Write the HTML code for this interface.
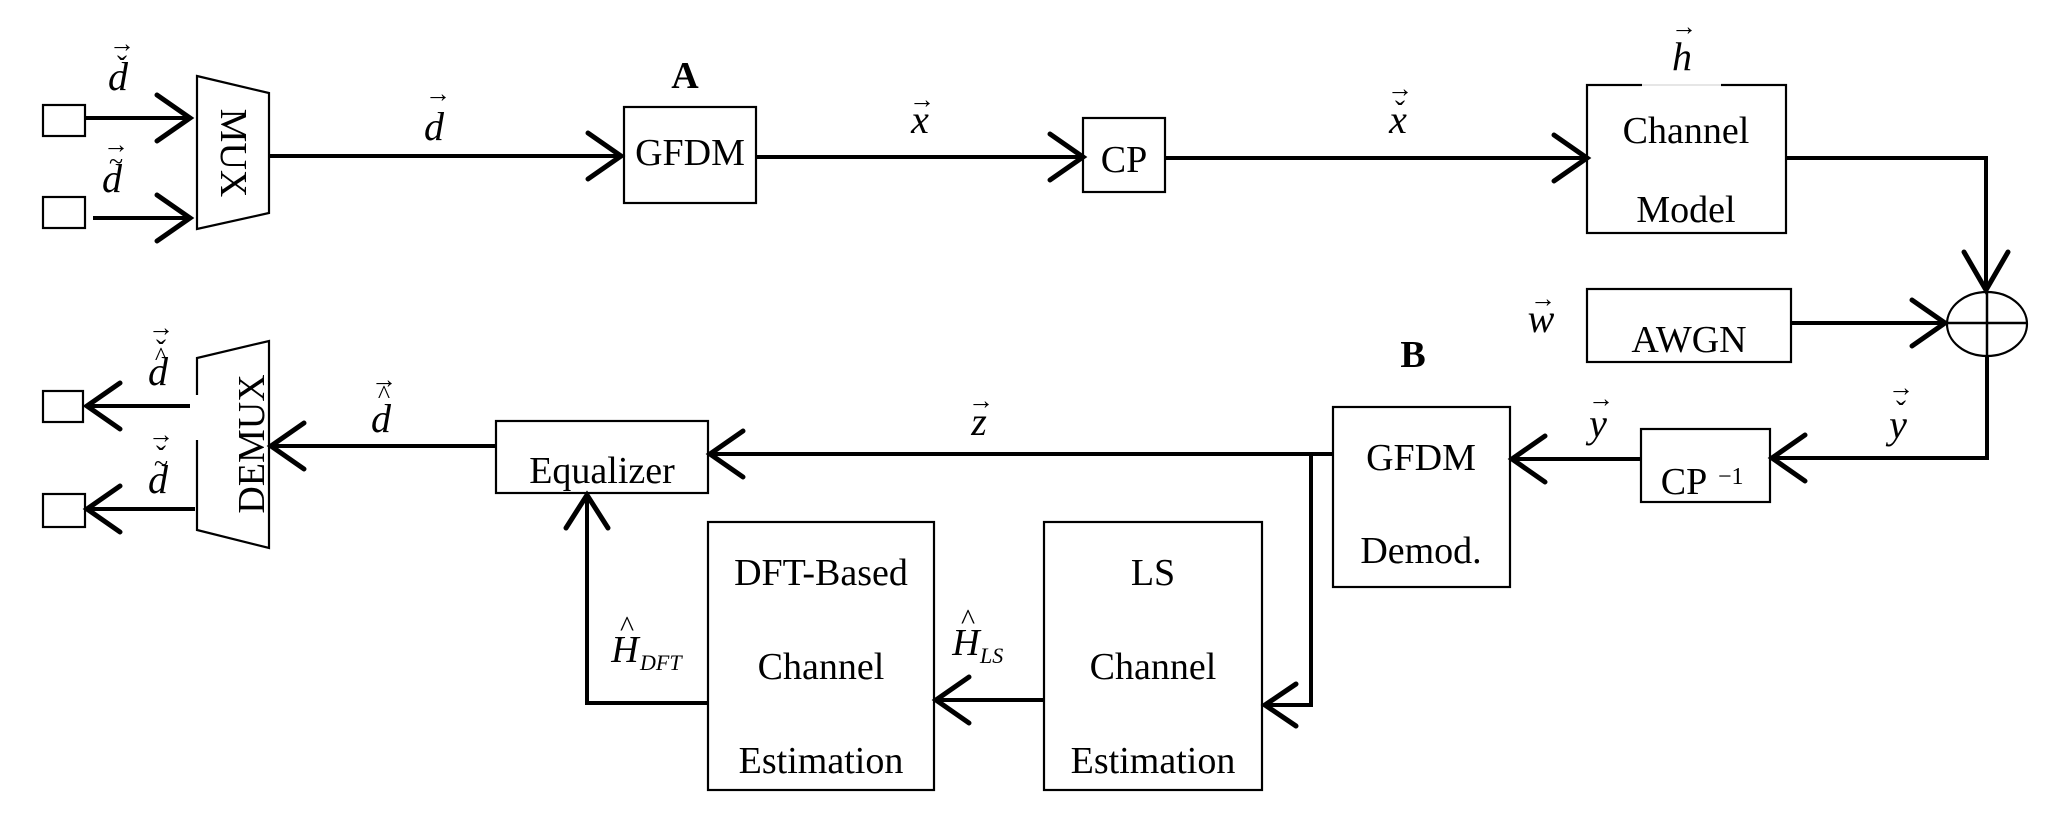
<!DOCTYPE html>
<html><head><meta charset="utf-8"><style>
html,body{margin:0;padding:0;background:#fff;}
svg{display:block;}
text{font-family:"Liberation Serif",serif;fill:#000;}
.t{font-size:38px;text-anchor:middle;}
.v{font-size:40px;font-style:italic;text-anchor:middle;}
.acc{font-size:26px;text-anchor:middle;}
.ck{font-size:30px;text-anchor:middle;}
</style></head><body>
<svg width="2057" height="821" viewBox="0 0 2057 821" xmlns="http://www.w3.org/2000/svg">
<g fill="none" stroke="#000" stroke-width="2.2">
<rect x="43" y="105" width="42" height="31"/>
<rect x="43" y="197" width="42" height="31"/>
<rect x="43" y="391" width="40" height="31"/>
<rect x="43" y="494" width="42" height="33"/>
<polygon points="197,76 269,93 269,213 197,229"/>
<polyline points="197,395 197,358 269,341 269,548 197,530 197,440"/>
<rect x="624" y="107" width="132" height="96"/>
<rect x="1083" y="118" width="82" height="74"/>
<rect x="1587" y="85" width="199" height="148"/>
<rect x="1587" y="289" width="204" height="73"/>
<ellipse cx="1987" cy="324" rx="40" ry="32"/>
<rect x="1333" y="407" width="177" height="180"/>
<rect x="1641" y="429" width="129" height="73"/>
<rect x="496" y="421" width="212" height="72"/>
<rect x="708" y="522" width="226" height="268"/>
<rect x="1044" y="522" width="218" height="268"/>
</g>
<line x1="1642" y1="85" x2="1721" y2="85" stroke="#fff" stroke-width="3"/>
<line x1="1642" y1="85" x2="1721" y2="85" stroke="#ccc" stroke-width="1"/>
<g fill="none" stroke="#000" stroke-width="4">
<line x1="85" y1="118" x2="190" y2="118"/>
<line x1="93" y1="218" x2="190" y2="218"/>
<line x1="269" y1="156" x2="621" y2="156"/>
<line x1="756" y1="157" x2="1083" y2="157"/>
<line x1="1165" y1="158" x2="1587" y2="158"/>
<polyline points="1786,158 1986,158 1986,290"/>
<line x1="1791" y1="323" x2="1945" y2="323"/>
<line x1="1947" y1="323" x2="2027" y2="323" stroke-width="2.5"/>
<line x1="1987" y1="292" x2="1987" y2="356" stroke-width="2.5"/>
<polyline points="1987,356 1987,458 1772,458"/>
<line x1="1641" y1="459" x2="1512" y2="459"/>
<line x1="1333" y1="454" x2="710" y2="454"/>
<polyline points="1311,454 1311,705 1265,705"/>
<line x1="1044" y1="700" x2="936" y2="700"/>
<polyline points="708,703 587,703 587,495"/>
<line x1="496" y1="446" x2="271" y2="446"/>
<line x1="190" y1="406" x2="87" y2="406"/>
<line x1="195" y1="509" x2="87" y2="509"/>
</g>
<g fill="none" stroke="#000" stroke-width="5" stroke-linecap="round" stroke-linejoin="miter">
<polyline points="157,95 190,118 157,141"/>
<polyline points="157,195 190,218 157,241"/>
<polyline points="588,133 621,156 588,179"/>
<polyline points="1050,134 1083,157 1050,180"/>
<polyline points="1554,135 1587,158 1554,181"/>
<polyline points="1964,252 1986,290 2008,252"/>
<polyline points="1912,300 1945,323 1912,346"/>
<polyline points="1805,435 1772,458 1805,481"/>
<polyline points="1545,436 1512,459 1545,482"/>
<polyline points="743,431 710,454 743,477"/>
<polyline points="1296,684 1265,705 1296,726"/>
<polyline points="969,677 936,700 969,723"/>
<polyline points="566,528 587,495 608,528"/>
<polyline points="304,423 271,446 304,469"/>
<polyline points="120,383 87,406 120,429"/>
<polyline points="120,486 87,509 120,532"/>
</g>
<text class="t" transform="translate(233,153) rotate(90)" dominant-baseline="central">MUX</text>
<text class="t" transform="translate(252,444) rotate(-90)" dominant-baseline="central">DEMUX</text>
<text class="t" x="690" y="165">GFDM</text>
<text class="t" x="1124" y="172">CP</text>
<text class="t" x="1686" y="143">Channel</text>
<text class="t" x="1686" y="222">Model</text>
<text class="t" x="1689" y="352">AWGN</text>
<text class="t" x="1421" y="470">GFDM</text>
<text class="t" x="1421" y="563">Demod.</text>
<text class="t" x="1684" y="494">CP</text>
<text style="font-size:24px" x="1718" y="484">−1</text>
<text class="t" x="602" y="483">Equalizer</text>
<text class="t" x="821" y="585">DFT-Based</text>
<text class="t" x="821" y="679">Channel</text>
<text class="t" x="821" y="773">Estimation</text>
<text class="t" x="1153" y="585">LS</text>
<text class="t" x="1153" y="679">Channel</text>
<text class="t" x="1153" y="773">Estimation</text>
<text x="685" y="88" style="font-size:38px;font-weight:bold;text-anchor:middle">A</text>
<text x="1413" y="367" style="font-size:38px;font-weight:bold;text-anchor:middle">B</text>
<text class="v" x="118" y="90">d</text><text class="acc" x="122" y="52">→</text><text class="ck" x="122" y="76">ˇ</text>
<text class="v" x="112" y="192">d</text><text class="acc" x="116" y="153">→</text><text class="acc" x="116" y="170">~</text>
<text class="v" x="434" y="140">d</text><text class="acc" x="438" y="102">→</text>
<text class="v" x="920" y="133">x</text><text class="acc" x="922" y="108">→</text>
<text class="v" x="1398" y="133">x</text><text class="acc" x="1400" y="97">→</text><text class="ck" x="1400" y="121">ˇ</text>
<text class="v" x="1682" y="70">h</text><text class="acc" x="1684" y="35">→</text>
<text class="v" x="1541" y="332">w</text><text class="acc" x="1543" y="307">→</text>
<text class="v" x="1598" y="437">y</text><text class="acc" x="1601" y="407">→</text>
<text class="v" x="1898" y="438">y</text><text class="acc" x="1901" y="396">→</text><text class="ck" x="1901" y="421">ˇ</text>
<text class="v" x="979" y="435">z</text><text class="acc" x="981" y="409">→</text>
<text class="v" x="381" y="432">d</text><text class="acc" x="384" y="403">^</text><text class="acc" x="384" y="388">→</text>
<text class="v" x="158" y="385">d</text><text class="acc" x="161" y="336">→</text><text class="ck" x="161" y="360">ˇ</text><text class="acc" x="161" y="365">^</text>
<text class="v" x="158" y="493">d</text><text class="acc" x="161" y="443">→</text><text class="ck" x="161" y="466">ˇ</text><text class="acc" x="161" y="472">~</text>
<text x="625" y="662" style="font-size:38px;font-style:italic;text-anchor:middle">H</text>
<text x="627" y="636" style="font-size:30px;text-anchor:middle">^</text>
<text x="640" y="670" style="font-size:22px;font-style:italic">DFT</text>
<text x="966" y="655" style="font-size:38px;font-style:italic;text-anchor:middle">H</text>
<text x="968" y="629" style="font-size:30px;text-anchor:middle">^</text>
<text x="980" y="663" style="font-size:22px;font-style:italic">LS</text>
</svg>
</body></html>
